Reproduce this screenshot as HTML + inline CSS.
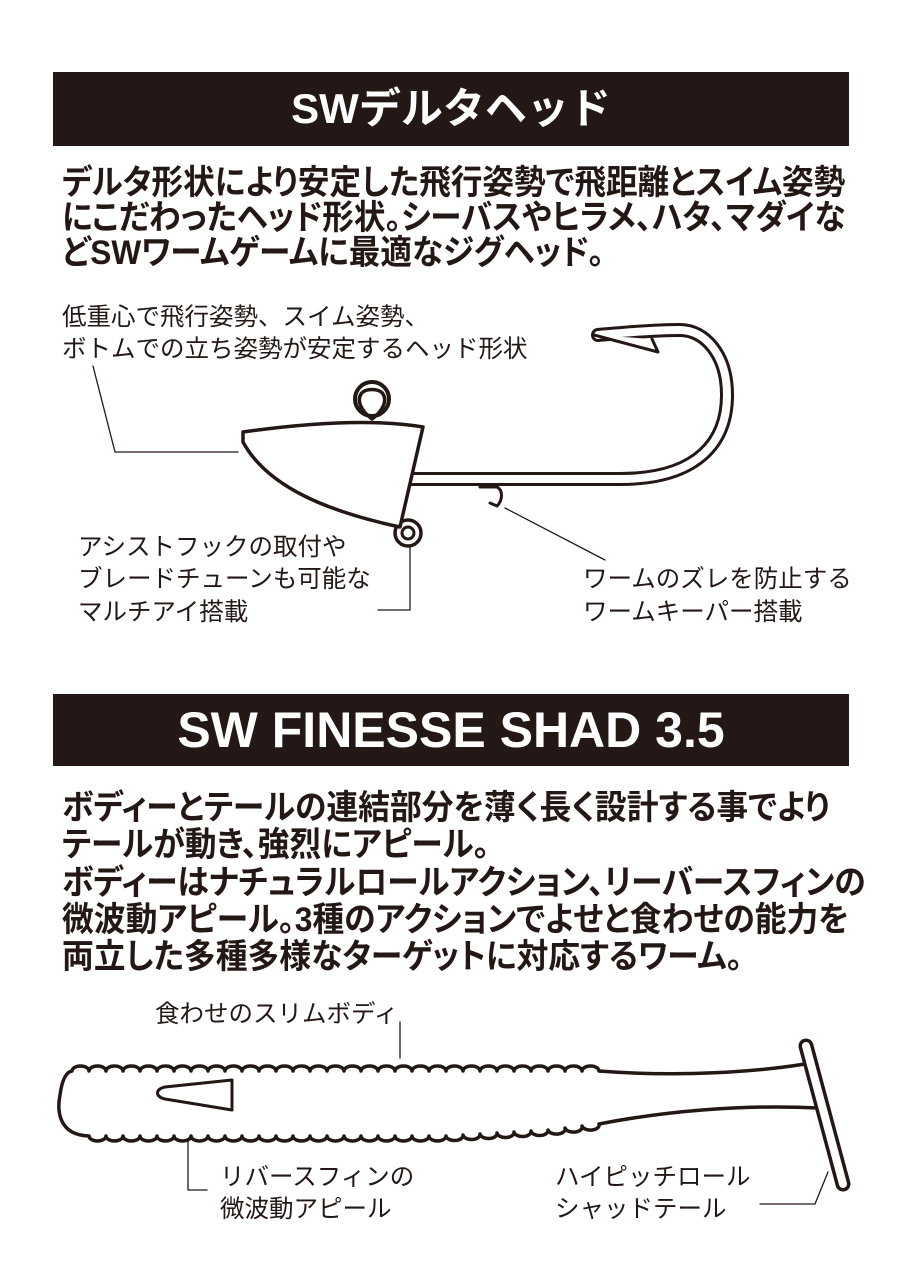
<!DOCTYPE html>
<html><head><meta charset="utf-8">
<style>
html,body{margin:0;padding:0;background:#fff;}
body{width:900px;height:1280px;position:relative;overflow:hidden;font-family:"Liberation Sans","Noto Sans CJK JP",sans-serif;color:#231815;}
.bar{position:absolute;left:53px;width:796px;background:#231815;color:#fff;font-weight:bold;text-align:center;}
.t{position:absolute;white-space:nowrap;transform-origin:0 50%;}
.p1{font-size:34px;font-weight:bold;transform:scaleX(0.93);line-height:36px;font-feature-settings:"palt";}
.p2{font-size:34px;font-weight:bold;transform:scaleX(0.935);line-height:36px;font-feature-settings:"palt";}
.a{font-size:24.5px;line-height:28px;}
svg{position:absolute;left:0;top:0;}
</style></head><body>
<div class="bar" style="top:72px;height:74px;line-height:74px;font-size:42px;">SWデルタヘッド</div>
<div class="t p1" style="left:62px;top:165px;">デルタ形状により安定した飛行姿勢で飛距離とスイム姿勢</div>
<div class="t p1" style="left:62px;top:200px;">にこだわったヘッド形状。シーバスやヒラメ、ハタ、マダイな</div>
<div class="t p1" style="left:62px;top:235px;">どSWワームゲームに最適なジグヘッド。</div>

<div class="t a" style="left:62px;top:304px;">低重心で飛行姿勢、スイム姿勢、</div>
<div class="t a" style="left:62px;top:336px;">ボトムでの立ち姿勢が安定するヘッド形状</div>
<div class="t a" style="left:78px;top:534px;">アシストフックの取付や</div>
<div class="t a" style="left:78px;top:566px;">ブレードチューンも可能な</div>
<div class="t a" style="left:78px;top:599px;">マルチアイ搭載</div>
<div class="t a" style="left:583px;top:566px;">ワームのズレを防止する</div>
<div class="t a" style="left:583px;top:599px;">ワームキーパー搭載</div>

<div class="bar" style="top:694px;height:72px;line-height:72px;font-size:50px;">SW FINESSE SHAD 3.5</div>
<div class="t p2" style="left:62px;top:790px;">ボディーとテールの連結部分を薄く長く設計する事でより</div>
<div class="t p2" style="left:62px;top:827px;">テールが動き、強烈にアピール。</div>
<div class="t p2" style="left:62px;top:865px;">ボディーはナチュラルロールアクション、リーバースフィンの</div>
<div class="t p2" style="left:62px;top:902px;">微波動アピール。3種のアクションでよせと食わせの能力を</div>
<div class="t p2" style="left:62px;top:939px;">両立した多種多様なターゲットに対応するワーム。</div>

<div class="t a" style="left:155px;top:1001px;">食わせのスリムボディ</div>
<div class="t a" style="left:220px;top:1164px;">リバースフィンの</div>
<div class="t a" style="left:220px;top:1196px;">微波動アピール</div>
<div class="t a" style="left:555px;top:1164px;">ハイピッチロール</div>
<div class="t a" style="left:555px;top:1196px;">シャッドテール</div>

<svg width="900" height="1280" viewBox="0 0 900 1280" fill="none" stroke="#231815" stroke-linejoin="round" stroke-linecap="round">
<g stroke-width="1.3">
<polyline points="93,366 115,452 238,452"/>
<polyline points="410,545 410,610 378,610"/>
<line x1="505" y1="508" x2="605" y2="560"/>
<line x1="400" y1="1022" x2="400" y2="1058"/>
<polyline points="188,1108 188,1190 207,1190"/>
<polyline points="828,1172 815,1204 760,1204"/>
</g>
<path d="M405 479 L620 479 C700 479 727 440 727 395 C727 355 705 330 680 330 C650 330 620 333 598 335" stroke-width="14"/>
<path d="M405 479 L620 479 C700 479 727 440 727 395 C727 355 705 330 680 330 C650 330 620 333 598 335" stroke="#fff" stroke-width="8"/>
<path d="M594 335 L658 352 L652 339" stroke-width="3" fill="#fff"/>
<path d="M480 487 L497 487 C503 490 503 500 497 506 L490 503" stroke-width="3"/>
<circle cx="372" cy="399" r="17" stroke-width="4" fill="#fff"/>
<path d="M372 419 C360 410 357 400 361 394 C365 388 379 388 383 394 C387 400 384 410 372 419 Z" stroke-width="3.5"/>
<circle cx="408" cy="533" r="13" stroke-width="3.5" fill="#fff"/>
<circle cx="408" cy="533" r="6" stroke-width="3"/>
<path d="M243 432 C300 424 370 418 423 427 L400 527 C330 512 268 488 243 442 Z" stroke-width="3.5" fill="#fff"/>
<path d="M72 1071 a8.5 5 0 0 1 17 0 a8.5 5 0 0 1 17 0 a8.5 5 0 0 1 17 0 a8.5 5 0 0 1 17 0 a8.5 5 0 0 1 17 0 a8.5 5 0 0 1 17 0 a8.5 5 0 0 1 17 0 a8.5 5 0 0 1 17 0 a8.5 5 0 0 1 17 0 a8.5 5 0 0 1 17 0 a8.5 5 0 0 1 17 0 a8.5 5 0 0 1 17 0 a8.5 5 0 0 1 17 0 a8.5 5 0 0 1 17 0 a8.5 5 0 0 1 17 0 a8.5 5 0 0 1 17 0 a8.5 5 0 0 1 17 0 a8.5 5 0 0 1 17 0 a8.5 5 0 0 1 17 0 a8.5 5 0 0 1 17 0 a8.5 5 0 0 1 17 0 a8.5 5 0 0 1 17 0 a8.5 5 0 0 1 17 0 a8.5 5 0 0 1 17 0 a8.5 5 0 0 1 17 0 a8.5 5 0 0 1 17 0 a8.5 5 0 0 1 17 0 a8.5 5 0 0 1 17 0 a8.5 5 0 0 1 17 0 a8.5 5 0 0 1 17 0 a8.5 5 0 0 1 17 0 C650 1075 730 1076 805 1064 L818 1108 C740 1104 660 1112 599 1124 a8.5 5 0 0 1 -17 2 a8.5 5 0 0 1 -17 2 a8.5 5 0 0 1 -17 2 a8.5 5 0 0 1 -17 1 a8.5 5 0 0 1 -17 1 a8.5 5 0 0 1 -17 1 a8.5 5 0 0 1 -17 1 a8.5 5 0 0 1 -17 1 a8.5 5 0 0 1 -17 1 a8.5 5 0 0 1 -17 0 a8.5 5 0 0 1 -17 0 a8.5 5 0 0 1 -17 0 a8.5 5 0 0 1 -17 0 a8.5 5 0 0 1 -17 0 a8.5 5 0 0 1 -17 0 a8.5 5 0 0 1 -17 0 a8.5 5 0 0 1 -17 0 a8.5 5 0 0 1 -17 0 a8.5 5 0 0 1 -17 0 a8.5 5 0 0 1 -17 0 a8.5 5 0 0 1 -17 0 a8.5 5 0 0 1 -17 0 a8.5 5 0 0 1 -17 0 a8.5 5 0 0 1 -17 0 a8.5 5 0 0 1 -17 0 a8.5 5 0 0 1 -17 0 a8.5 5 0 0 1 -17 0 a8.5 5 0 0 1 -17 0 a8.5 5 0 0 1 -17 0 a8.5 5 0 0 1 -17 0 C58 1135 57 1110 60 1095 C62 1080 66 1072 72 1071 Z" stroke-width="3.5" fill="#fff"/>
<path d="M232 1080 L232 1110 L165 1099 C155 1097 155 1089 165 1087 Z" stroke-width="3"/>
<line x1="806" y1="1046" x2="843" y2="1184" stroke-width="15"/>
<line x1="806" y1="1046" x2="843" y2="1184" stroke="#fff" stroke-width="8"/>
</svg>
</body></html>
